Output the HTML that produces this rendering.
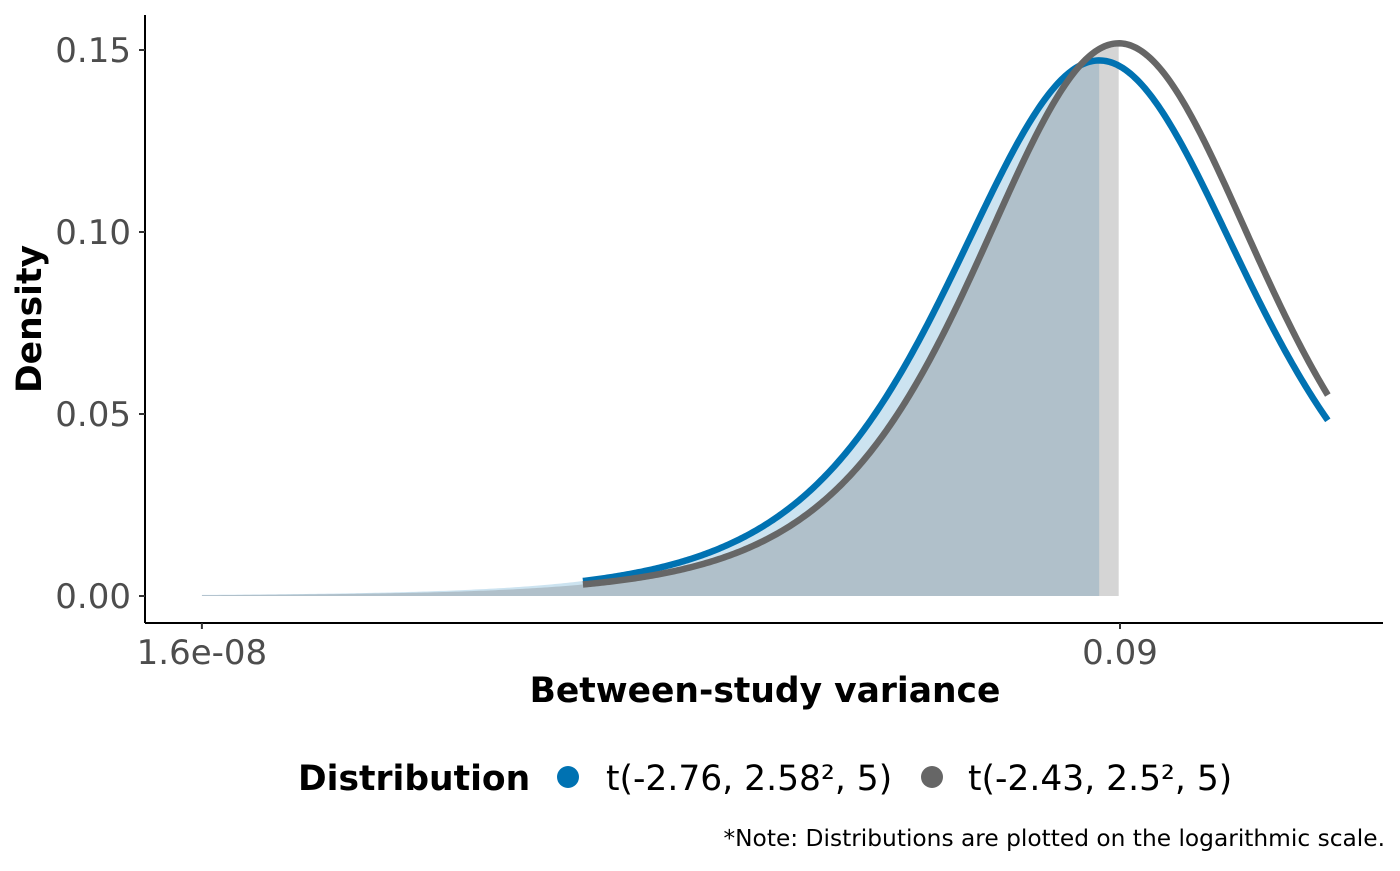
<!DOCTYPE html>
<html><head><meta charset="utf-8"><style>
body{margin:0;background:#fff;}
svg text{font-family:"DejaVu Sans","Liberation Sans",sans-serif;}
</style></head><body>
<svg width="1400" height="866" xmlns="http://www.w3.org/2000/svg">
<g id="fills"></g>
<g id="lines"></g>
<line x1="145" y1="15" x2="145" y2="623" stroke="#000" stroke-width="2"/>
<line x1="145" y1="623" x2="1383" y2="623" stroke="#000" stroke-width="2"/>
<g id="yticks"></g>
<g id="xticks"></g>
<text x="41" y="319" transform="rotate(-90 41 319)" text-anchor="middle" font-size="34.5" font-weight="bold">Density</text>
<text x="765" y="702" text-anchor="middle" font-size="34.5" font-weight="bold">Between-study variance</text>
<g>
<text x="298" y="790" font-size="34.5" font-weight="bold">Distribution</text>
<circle cx="568" cy="777" r="11" fill="#0072b2"/>
<text x="606" y="790" font-size="34.5" fill="#000">t(-2.76, 2.58², 5)</text>
<circle cx="932" cy="777" r="11" fill="#666666"/>
<text x="968" y="790" font-size="34.5" fill="#000">t(-2.43, 2.5², 5)</text>
</g>
<text x="1385" y="846" text-anchor="end" font-size="23.3">*Note: Distributions are plotted on the logarithmic scale.</text>
</svg>
<script>
const seriesNames=['blue','grey'];
const mus=[-2.76,-2.43];
const sigmas=[2.58,2.5];
const dfs=[5,5];
const colors=['#0072b2','#666666'];
const fillColors=['rgba(0,114,178,0.2)','rgba(102,102,102,0.275)'];
const yTicks=[0,0.05,0.10,0.15];
const yTickLabels=['0.00','0.05','0.10','0.15'];
const xTicks=[1.6e-8,0.09];
const xTickLabels=['1.6e-08','0.09'];
const lineRange=[-11.5,1.11];
const fillStart=-17.95;
const NS='http://www.w3.org/2000/svg';
const xs=v=>1120+(v-Math.log(0.09))*59.07;
const ys=d=>596-d*3640;
function dens(z,mu,s,df){
  const c=Math.exp(lgamma((df+1)/2)-lgamma(df/2))/Math.sqrt(df*Math.PI);
  const t=(z-mu)/s;return c/s*Math.pow(1+t*t/df,-(df+1)/2);
}
function lgamma(x){const g=[76.18009172947146,-86.50532032941677,24.01409824083091,-1.231739572450155,0.1208650973866179e-2,-0.5395239384953e-5];
 let y=x,t=x+5.5;t-=(x+0.5)*Math.log(t);let s=1.000000000190015;for(let j=0;j<6;j++)s+=g[j]/++y;return -t+Math.log(2.5066282746310005*s/x);}
const fills=document.getElementById('fills'),lines=document.getElementById('lines');
for(let i=0;i<mus.length;i++){
  let d='M'+xs(fillStart)+','+ys(0);
  const n=300;
  for(let k=0;k<=n;k++){const z=fillStart+(mus[i]-fillStart)*k/n;d+=' L'+xs(z).toFixed(2)+','+ys(dens(z,mus[i],sigmas[i],dfs[i])).toFixed(2);}
  d+=' L'+xs(mus[i])+','+ys(0)+' Z';
  const p=document.createElementNS(NS,'path');p.setAttribute('d',d);p.setAttribute('fill',fillColors[i]);
  
  
  fills.appendChild(p);
}
for(let i=0;i<mus.length;i++){
  let d='';const n=400;
  for(let k=0;k<=n;k++){const z=lineRange[0]+(lineRange[1]-lineRange[0])*k/n;d+=(k?' L':'M')+xs(z).toFixed(2)+','+ys(dens(z,mus[i],sigmas[i],dfs[i])).toFixed(2);}
  const p=document.createElementNS(NS,'path');p.setAttribute('d',d);p.setAttribute('fill','none');
  p.setAttribute('stroke',colors[i]);p.setAttribute('stroke-width','6.5');
  
  
  lines.appendChild(p);
}
const yt=document.getElementById('yticks');
yTicks.forEach((v,i)=>{
  const l=document.createElementNS(NS,'line');l.setAttribute('x1',139);l.setAttribute('x2',145);l.setAttribute('y1',ys(v));l.setAttribute('y2',ys(v));l.setAttribute('stroke','#333');l.setAttribute('stroke-width','2');
  
  
  yt.appendChild(l);
  const t=document.createElementNS(NS,'text');t.setAttribute('x',131);t.setAttribute('y',ys(v)+12);t.setAttribute('text-anchor','end');t.setAttribute('font-size','34');t.setAttribute('fill','#4d4d4d');t.textContent=yTickLabels[i];
  
  
  yt.appendChild(t);
});
const xt=document.getElementById('xticks');
xTicks.forEach((v,i)=>{
  const x=xs(Math.log(v));
  const l=document.createElementNS(NS,'line');l.setAttribute('x1',x);l.setAttribute('x2',x);l.setAttribute('y1',623);l.setAttribute('y2',629);l.setAttribute('stroke','#333');l.setAttribute('stroke-width','2');
  
  
  xt.appendChild(l);
  const t=document.createElementNS(NS,'text');t.setAttribute('x',x);t.setAttribute('y',664);t.setAttribute('text-anchor','middle');t.setAttribute('font-size','34');t.setAttribute('fill','#4d4d4d');t.textContent=xTickLabels[i];
  
  
  xt.appendChild(t);
});
</script>
</body></html>
